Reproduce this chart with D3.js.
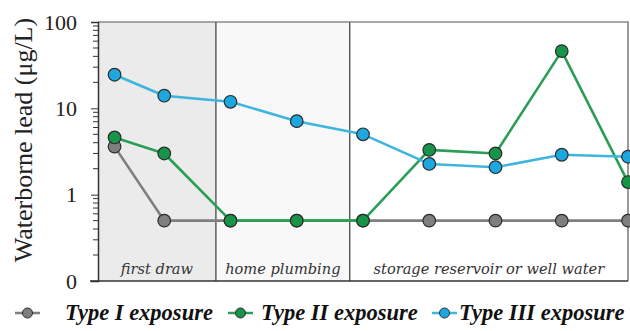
<!DOCTYPE html>
<html>
<head>
<meta charset="utf-8">
<script src="https://cdn.jsdelivr.net/npm/d3@7"></script>
<style>
  html, body { margin: 0; padding: 0; background: #fff; }
  svg { display: block; }
</style>
</head>
<body>
<svg id="chart" width="630" height="331"></svg>
<script>
// Sampling positions along the flushing sequence
const samplePos = [0.25, 1, 2, 3, 4, 5, 6, 7, 8];

// Waterborne lead (µg/L) for each exposure type
const typeI   = [3.6, 0.5, 0.5, 0.5, 0.5, 0.5, 0.5, 0.5, 0.5];
const typeII  = [4.6, 3.0, 0.5, 0.5, 0.5, 3.3, 3.0, 46, 1.4];
const typeIII = [24.5, 14.0, 11.9, 7.1, 5.0, 2.27, 2.08, 2.9, 2.75];

const seriesNames = ["Type I exposure", "Type II exposure", "Type III exposure"];

// Water-source zones along the sequence
const zoneNames = ["first draw", "home plumbing", "storage reservoir or well water"];
const zoneStart = [0, 1.78, 3.8];
const zoneEnd   = [1.78, 3.8, 8];

// Y axis ticks (bottom of the log axis is labelled 0)
const yTickValues = [0.1, 1, 10, 100];
const yTickLabels = ["0", "1", "10", "100"];

const colors = { line: ["#7f7f7f", "#2a9d56", "#3db5de"], fill: ["#7f7f7f", "#179447", "#1ea7df"] };
const zoneFill = ["#ebebeb", "#f8f8f8", "#ffffff"];
const serifFont = "'Liberation Serif', 'Times New Roman', Times, serif";

const svg = d3.select("#chart");
const plotL = 98, plotR = 628, plotT = 22, plotB = 281;

const x = d3.scaleLinear().domain([0, 8]).range([plotL, plotR]);
const y = d3.scaleLog().domain([0.1, 100]).range([plotB, plotT]);

// Zone backgrounds
svg.selectAll("rect.zone").data(zoneNames).join("rect")
  .attr("class", "zone")
  .attr("x", (d, i) => x(zoneStart[i]))
  .attr("y", plotT)
  .attr("width", (d, i) => x(zoneEnd[i]) - x(zoneStart[i]))
  .attr("height", plotB - plotT)
  .attr("fill", (d, i) => zoneFill[i]);

// Zone dividers
svg.selectAll("line.divider").data(zoneStart.slice(1)).join("line")
  .attr("class", "divider")
  .attr("x1", d => x(d)).attr("x2", d => x(d))
  .attr("y1", plotT).attr("y2", plotB)
  .attr("stroke", "#3a3a3a").attr("stroke-width", 1.2);

// Zone labels
svg.selectAll("text.zone").data(zoneNames).join("text")
  .attr("class", "zone")
  .attr("x", (d, i) => (x(zoneStart[i]) + x(zoneEnd[i])) / 2)
  .attr("y", 274)
  .attr("text-anchor", "middle")
  .attr("font-family", "'DejaVu Serif', serif")
  .attr("font-style", "italic")
  .attr("font-size", 14.6)
  .attr("fill", "#333")
  .text(d => d);

// Frame (top and right)
svg.append("path")
  .attr("d", `M${plotL},${plotT}H${plotR}V${plotB}`)
  .attr("fill", "none").attr("stroke", "#555").attr("stroke-width", 1.2);

// Y axis with log minor ticks pointing outward
const minorTicks = [];
[0.1, 1, 10].forEach(dec => { for (let k = 2; k <= 9; k++) minorTicks.push(dec * k); });
const yAxisG = svg.append("g").attr("transform", `translate(${plotL},0)`);
yAxisG.selectAll("line.minor").data(minorTicks).join("line")
  .attr("class", "minor")
  .attr("x1", -5).attr("x2", 0)
  .attr("y1", d => y(d)).attr("y2", d => y(d))
  .attr("stroke", "#333").attr("stroke-width", 1);
yAxisG.call(d3.axisLeft(y).tickValues(yTickValues)
    .tickFormat((d, i) => yTickLabels[i]).tickSize(7).tickPadding(14))
  .call(g => g.select(".domain").attr("stroke", "#333").attr("stroke-width", 1.5))
  .call(g => g.selectAll(".tick line").attr("stroke", "#333"))
  .call(g => g.selectAll(".tick text")
    .attr("font-family", serifFont)
    .attr("font-size", 22).attr("fill", "#222"));

// Bottom baseline
svg.append("line")
  .attr("x1", plotL - 8).attr("x2", plotR)
  .attr("y1", plotB).attr("y2", plotB)
  .attr("stroke", "#333").attr("stroke-width", 1.5);

// Y title
svg.append("text")
  .attr("transform", `translate(32,140) rotate(-90)`)
  .attr("text-anchor", "middle")
  .attr("font-family", serifFont)
  .attr("font-size", 26)
  .attr("fill", "#222")
  .text("Waterborne lead (\u03bcg/L)");

// Series
const allSeries = [typeI, typeII, typeIII];
const line = d3.line().x((d, i) => x(samplePos[i])).y(d => y(d));
allSeries.forEach((vals, s) => {
  const g = svg.append("g");
  g.append("path").datum(vals)
    .attr("d", line)
    .attr("fill", "none")
    .attr("stroke", colors.line[s])
    .attr("stroke-width", 2.6)
    .attr("stroke-linejoin", "round");
  g.selectAll("circle").data(vals).join("circle")
    .attr("cx", (d, i) => x(samplePos[i]))
    .attr("cy", d => y(d))
    .attr("r", 6.3)
    .attr("fill", colors.fill[s])
    .attr("stroke", "#2b2b2b")
    .attr("stroke-width", 1.2);
});

// Legend
const legendX = [15, 228, 432];
const legendTextX = [65, 261, 459];
const legendY = 313;
seriesNames.forEach((name, s) => {
  const g = svg.append("g");
  g.append("line")
    .attr("x1", legendX[s]).attr("x2", legendX[s] + 25)
    .attr("y1", legendY).attr("y2", legendY)
    .attr("stroke", colors.line[s]).attr("stroke-width", 2.5);
  g.append("circle")
    .attr("cx", legendX[s] + 12.5).attr("cy", legendY).attr("r", 5)
    .attr("fill", colors.fill[s]).attr("stroke", "#2b2b2b").attr("stroke-width", 1);
  g.append("text")
    .attr("x", legendTextX[s]).attr("y", legendY + 7)
    .attr("font-family", serifFont)
    .attr("font-weight", "bold").attr("font-style", "italic")
    .attr("font-size", 22.5).attr("fill", "#111")
    .text(name);
});
</script>
</body>
</html>
